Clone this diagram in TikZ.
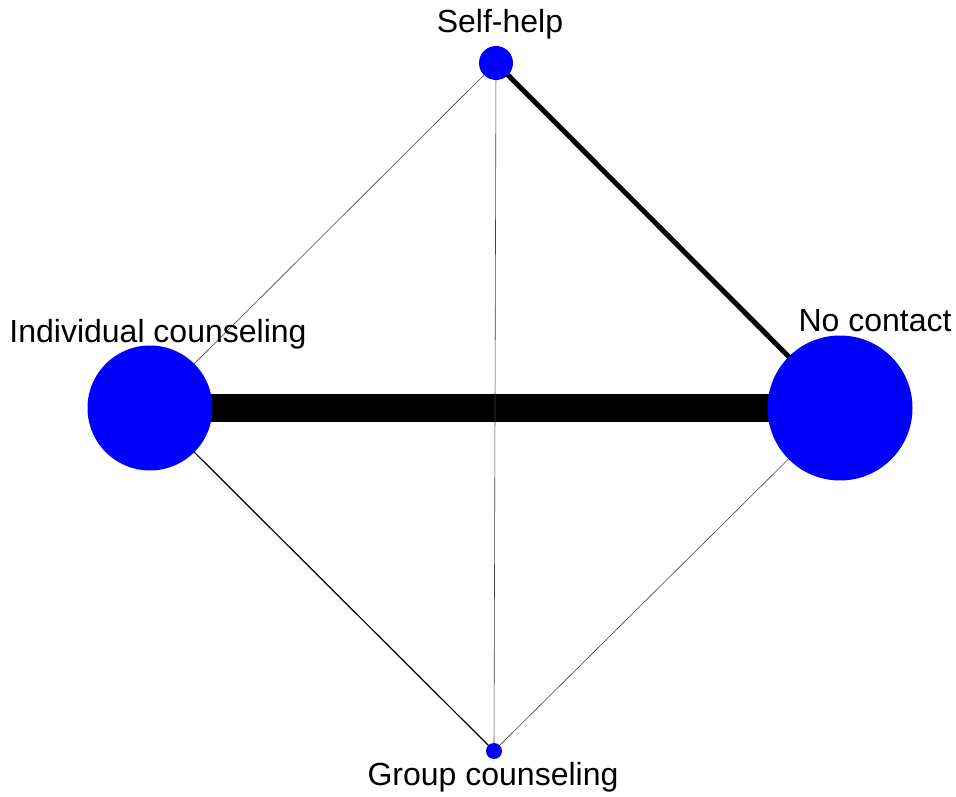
\documentclass[tikz,border=0pt]{standalone}
\usepackage{fontspec}
\setmainfont{Liberation Sans}
\pgfdeclarelayer{background}
\pgfsetlayers{background,main}

\begin{document}
\begin{tikzpicture}[
        x=1pt, y=-1pt,
        trt/.style={circle, fill=blue, draw=none, inner sep=0pt},
        lbl/.style={font=\fontsize{32}{38}\selectfont, text=black, anchor=base, inner sep=0pt},
        edge/.style={black, line cap=butt},
      ]
        \useasboundingbox (0, 0) rectangle (956, 797);

        % Treatments
        \node[trt, minimum size=34pt]  (sh) at (496, 63)  {};
        \node[trt, minimum size=125pt] (ic) at (150, 408) {};
        \node[trt, minimum size=145pt] (nc) at (840, 408) {};
        \node[trt, minimum size=16pt]  (gc) at (494, 751) {};

        % Labels
        \node[lbl] (shl) at (500, 33)  {Self-help};
        \node[lbl] (icl) at (158, 342) {Individual counseling};
        \node[lbl] (ncl) at (875, 331) {No contact};
        \node[lbl] (gcl) at (493, 785) {Group counseling};

        % Comparisons
        \begin{pgfonlayer}{background}
          \draw[edge, line width=28pt]  (ic.center) -- (nc.center);
          \draw[edge, line width=5pt]   (sh.center) -- (nc.center);
          \draw[edge, line width=1.2pt] (ic.center) -- (gc.center);
          \draw[edge, black!75, line width=0.6pt] (sh.center) -- (ic.center);
          \draw[edge, black!75, line width=0.6pt] (sh.center) -- (gc.center);
          \draw[edge, black!75, line width=0.6pt] (nc.center) -- (gc.center);
        \end{pgfonlayer}
      \end{tikzpicture}
\end{document}
